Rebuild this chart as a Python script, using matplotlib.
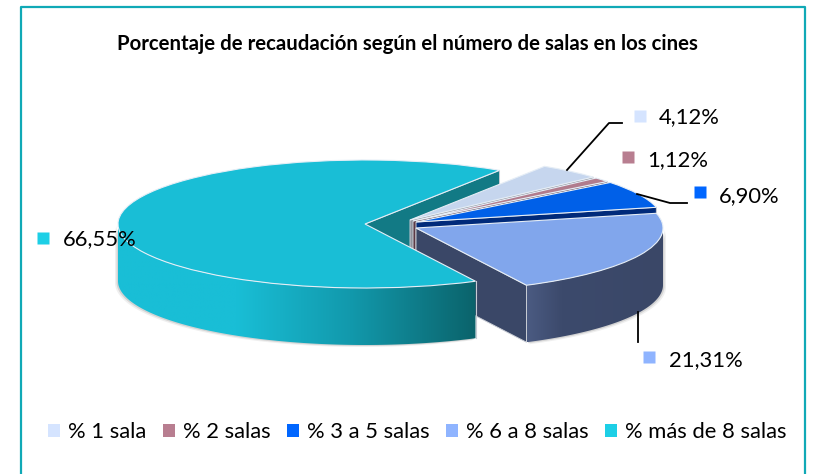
import numpy as np
import matplotlib
matplotlib.use('Agg')
import matplotlib.pyplot as plt
from matplotlib.colors import LinearSegmentedColormap
from matplotlib.patches import Patch, Polygon

plt.rcParams['font.family'] = ['Lato', 'DejaVu Sans']

title = 'Porcentaje de recaudación según el número de salas en los cines'
categories = ['% 1 sala', '% 2 salas', '% 3 a 5 salas', '% 6 a 8 salas', '% más de 8 salas']
values = [4.12, 1.12, 6.90, 21.31, 66.55]

top_colors = ['#c6d6ee', '#b17c8d', '#0060e8', '#81a6ec', '#19bed6']
face_colors = ['#8d919c', '#5c3a45', '#002a7a', '#3a4767', '#127a85']
key_colors = ['#d5e4ff', '#b87e90', '#0066ff', '#8fb4ff', '#1dcfe6']

# picture geometry, all in pixels
W, H = 814, 474
CX, CY = 365, 224
RX, RY = 247, 64
DEPTH = 57 / RY
centers_px = [(410, 220), (413, 221), (416, 222), (416, 228), (365, 224)]
label_px = [(659, 117), (647, 160), (719, 196), (669, 360), (63, 239)]
key_px = [(640, 116), (628, 157), (700, 192), (649, 357), (43, 238)]


def px(x, y):
    return (x - CX) / RX, (CY - y) / RY


def point(w, angle, drop=0.0):
    a = np.radians(angle)
    return w.center[0] + np.cos(a) * w.r, w.center[1] + np.sin(a) * w.r - drop


def radial_face(w, angle, color, z):
    p = point(w, angle)
    verts = [w.center, p, (p[0], p[1] - DEPTH), (w.center[0], w.center[1] - DEPTH)]
    ax.add_patch(Polygon(verts, closed=True, facecolor=color, edgecolor='#c8ccd4', lw=0.7, zorder=z))


def arc_verts(w, dx=0.0, dy=0.0):
    a1 = max(w.theta1, -180)
    a2 = min(w.theta2, 0)
    t = np.radians(np.linspace(a1, a2, 200))
    x = w.center[0] + np.cos(t) * w.r + dx
    y = w.center[1] + np.sin(t) * w.r + dy
    return np.r_[x, x[::-1]], np.r_[y, y[::-1] - DEPTH]


def arc_side(w, cmap, z):
    x, y = arc_verts(w)
    clip = Polygon(np.c_[x, y], closed=True, transform=ax.transData, facecolor='none', edgecolor='none')
    ax.add_patch(clip)
    im = ax.imshow(np.linspace(0, 1, 256)[None, :], cmap=cmap, aspect='auto', zorder=z,
                   extent=(x.min(), x.max(), y.min(), y.max()))
    im.set_clip_path(clip)


def shadow(w, dx, dy):
    for k, a in [(1.0, 0.12), (0.5, 0.25)]:
        x, y = arc_verts(w, dx * k / RX, -dy * k / RY)
        ax.add_patch(Polygon(np.c_[x, y], closed=True, facecolor='#808080', edgecolor='none', alpha=a, zorder=0.5))


fig = plt.figure(figsize=(W / 100, H / 100), dpi=100)
ax = fig.add_axes([0, 0, 1, 1])

wedges, _ = ax.pie(values, colors=top_colors, startangle=57, counterclock=False,
                   wedgeprops={'edgecolor': '#e6eef6', 'linewidth': 0.8})
for w, c in zip(wedges, centers_px):
    w.set_center(px(*c))

cyan_side = LinearSegmentedColormap.from_list('c', [(0, '#19bed6'), (0.33, '#19bed6'), (0.65, '#1299ac'), (1, '#0b636b')])
navy_side = LinearSegmentedColormap.from_list('n', [(0, '#4b5b82'), (0.25, '#3c4a6c'), (1, '#3a4767')])

shadow(wedges[4], -3, 2)
shadow(wedges[3], 3, 2)

# back to front: cut face of the big slice, small slices, then the big slice
radial_face(wedges[4], wedges[4].theta1, face_colors[4], 1)
for i in range(4):
    z = 2 + i
    radial_face(wedges[i], wedges[i].theta1, face_colors[i], z)
    wedges[i].set_zorder(z + 0.5)
arc_side(wedges[3], navy_side, 5.2)
arc_side(wedges[4], cyan_side, 6)
wedges[4].set_zorder(7)

# light edge at the front end of the big slice
end = point(wedges[4], wedges[4].theta2)
ax.plot([end[0], end[0]], [end[1], end[1] - DEPTH], color='#c8ccd4', lw=0.8, zorder=6.5)

# leader lines
leaders = [[(567, 170), (609, 123), (622, 123)],
           [(637, 194), (670, 203), (687, 203)],
           [(638, 312), (638, 342)]]
for line in leaders:
    xs, ys = zip(*[px(*p) for p in line])
    ax.plot(xs, ys, color='black', lw=1.3, zorder=8)

for v, c, lab, key in zip(values, key_colors, label_px, key_px):
    ax.plot(*px(*key), marker='s', ms=8, color=c, mec='none', zorder=9)
    ax.text(*px(*lab), f'{v:.2f}%'.replace('.', ','), fontsize=15.8, va='center', ha='left',
            color='black', zorder=10)

ax.text(*px(407, 44), title, fontsize=14.7, fontweight='bold', ha='center', va='center', color='black')

# chart frame, runs off the bottom of the picture
fx, fy = zip(*[px(*p) for p in [(20.5, H + 5), (20.5, 7), (805, 7), (805, H + 5)]])
ax.plot(fx, fy, color='#10a9b6', lw=1.6, clip_on=True, zorder=11)

handles = [Patch(facecolor=c, edgecolor='none') for c in key_colors]
ax.legend(handles, categories, ncol=5, loc='center', frameon=False, fontsize=15.8,
          bbox_to_anchor=(417.5 / W, 1 - 432.5 / H), handlelength=0.55, handleheight=0.55,
          handletextpad=0.36, columnspacing=0.75, borderpad=0, labelspacing=0)

ax.set_aspect('auto')
ax.set_xlim(*[px(0, 0)[0], px(W, 0)[0]])
ax.set_ylim(px(0, H)[1], px(0, 0)[1])
ax.axis('off')

fig.savefig('out.png', dpi=100, facecolor='white')
